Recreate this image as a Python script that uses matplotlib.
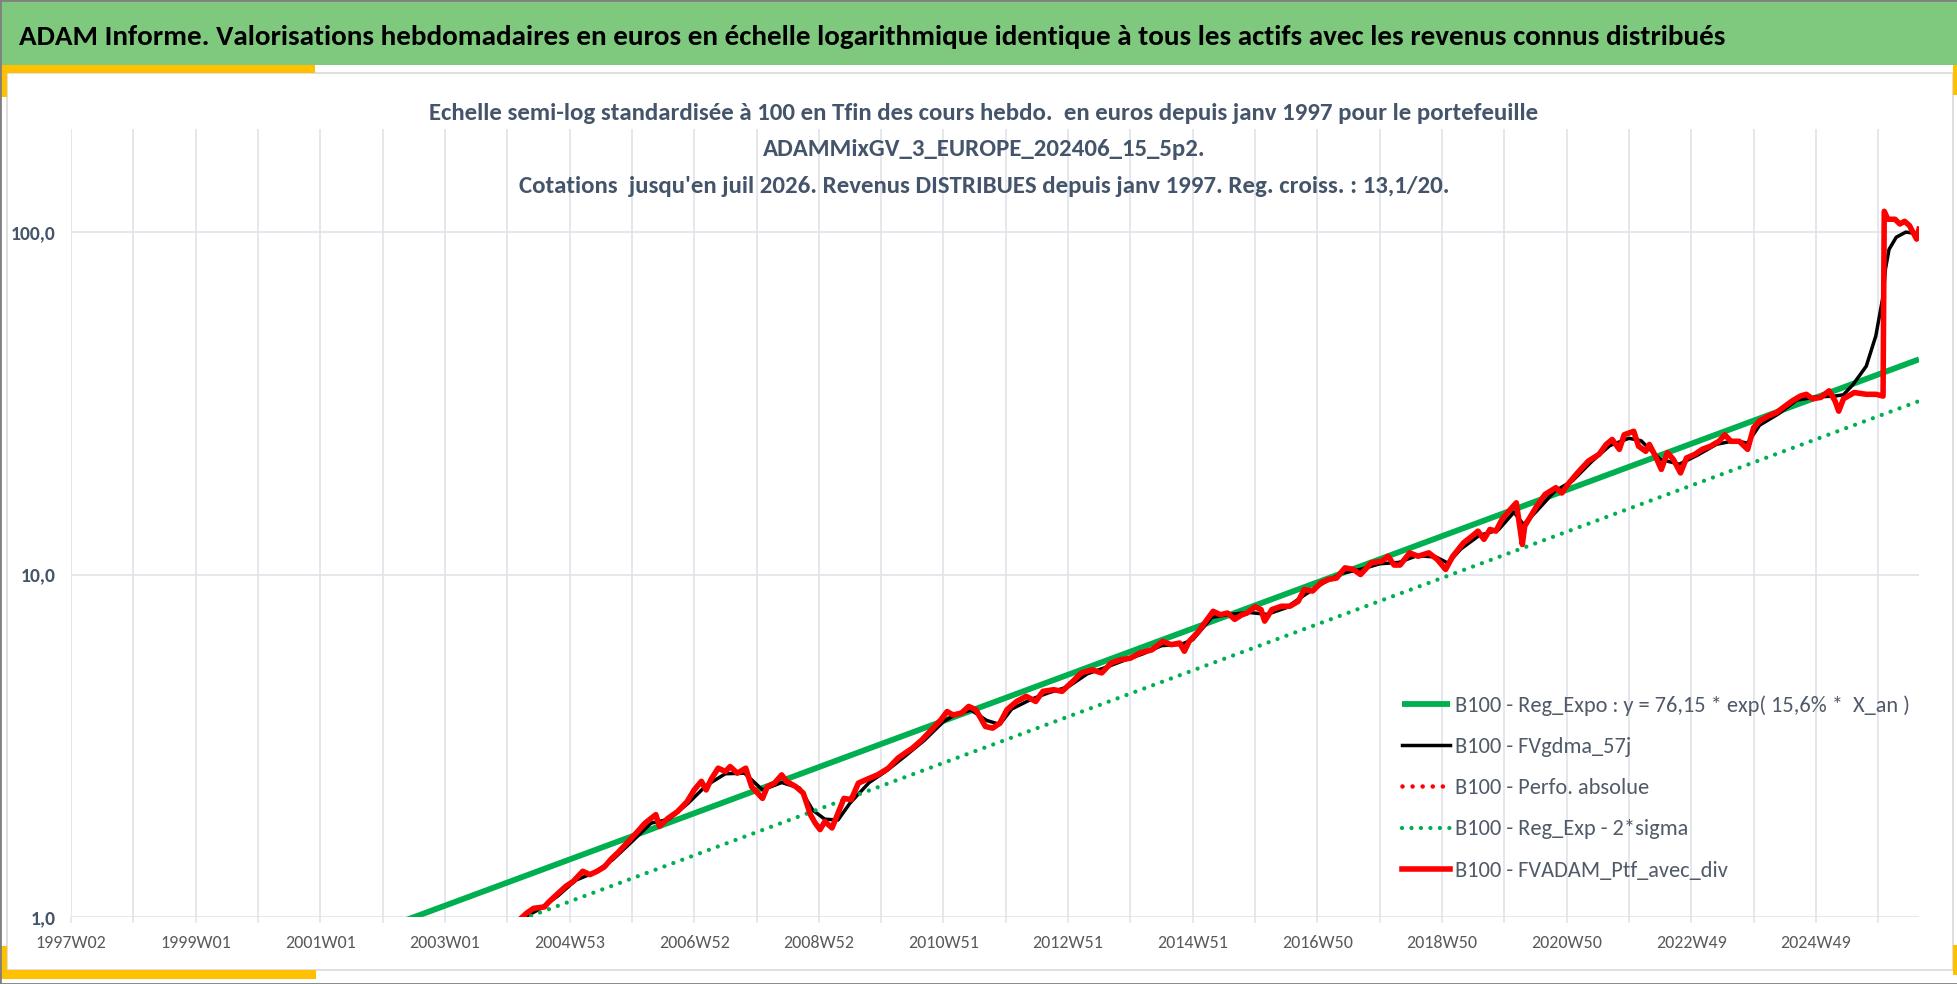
import matplotlib
matplotlib.use('Agg')
import matplotlib.pyplot as plt
from matplotlib import font_manager
from matplotlib.patches import Rectangle
from matplotlib.ticker import NullLocator

# ---------------- DATA ----------------
# x = week index since 1997W02 (weekly category axis), y = value (base 100)
n_weeks = 1543
tick_labels = ["1997W02", "1999W01", "2001W01", "2003W01", "2004W53", "2006W52",
               "2008W52", "2010W51", "2012W51", "2014W51", "2016W50", "2018W50",
               "2020W50", "2022W49", "2024W49"]

red_weeks = [372, 374, 380, 386, 395, 398, 405, 413, 419, 427, 433, 439, 445, 451, 457,
             465, 473, 479, 488, 491, 498, 506, 514, 520, 526, 530, 534, 540, 546, 550,
             556, 563, 568, 577, 581, 587, 593, 597, 605, 611, 617, 621, 625, 629, 635,
             639, 645, 651, 657, 666, 673, 682, 690, 696, 702, 710, 718, 726, 731, 736,
             743, 749, 755, 759, 763, 769, 775, 781, 789, 797, 805, 811, 820, 827, 836,
             843, 852, 860, 868, 876, 884, 892, 902, 911, 918, 925, 929, 933, 941, 947,
             953, 959, 965, 971, 977, 981, 988, 993, 996, 1002, 1010, 1017, 1024, 1029,
             1036, 1043, 1049, 1056, 1063, 1070, 1076, 1085, 1094, 1099, 1104, 1109, 1117,
             1124, 1133, 1140, 1147, 1153, 1162, 1169, 1174, 1179, 1184, 1189, 1194, 1201,
             1206, 1208, 1211, 1213, 1218, 1223, 1230, 1239, 1244, 1249, 1257, 1266, 1275,
             1281, 1286, 1292, 1296, 1304, 1308, 1314, 1317, 1322, 1327, 1332, 1337, 1343,
             1348, 1355, 1361, 1368, 1375, 1380, 1385, 1392, 1399, 1404, 1409, 1416, 1423,
             1429, 1436, 1443, 1448, 1453, 1460, 1467, 1472, 1475, 1479, 1488, 1498, 1506,
             1512, 1513, 1516, 1522, 1526, 1530, 1534, 1540, 1542]
red_values = [0.93, 0.98, 1.025, 1.06, 1.07, 1.10, 1.16, 1.23, 1.27, 1.36, 1.33, 1.36, 1.40,
              1.48, 1.55, 1.66, 1.78, 1.88, 1.99, 1.84, 1.94, 2.03, 2.17, 2.35, 2.49, 2.35,
              2.52, 2.72, 2.66, 2.75, 2.63, 2.72, 2.40, 2.22, 2.40, 2.46, 2.60, 2.49, 2.40,
              2.30, 1.99, 1.88, 1.80, 1.90, 1.82, 1.97, 2.22, 2.20, 2.46, 2.54, 2.60, 2.72,
              2.91, 3.01, 3.11, 3.29, 3.52, 3.77, 3.98, 3.89, 3.94, 4.12, 4.03, 3.81, 3.60,
              3.56, 3.68, 4.03, 4.26, 4.41, 4.26, 4.56, 4.61, 4.56, 4.88, 5.16, 5.27, 5.16,
              5.52, 5.64, 5.70, 5.90, 6.03, 6.38, 6.24, 6.31, 5.97, 6.38, 6.83, 7.31, 7.81,
              7.63, 7.72, 7.40, 7.63, 7.71, 8.05, 7.90, 7.31, 7.90, 8.08, 8.08, 8.35, 9.04,
              8.95, 9.46, 9.67, 9.77, 10.46, 10.35, 10.0, 10.82, 10.95, 11.31, 10.66, 10.66,
              11.57, 11.31, 11.57, 11.07, 10.35, 11.31, 12.38, 12.94, 13.39, 12.67, 13.54,
              13.39, 14.49, 15.49, 16.2, 14.49, 12.24, 13.85, 14.81, 15.84, 17.14, 17.93,
              17.3, 18.34, 19.8, 21.43, 22.44, 23.99, 24.8, 23.2, 25.6, 26.2, 23.7, 22.9,
              23.99, 22.2, 20.28, 22.7, 21.7, 19.8, 21.9, 22.44, 23.2, 23.7, 24.5, 25.6,
              24.5, 24.5, 23.2, 26.85, 28.1, 29.0, 29.7, 30.8, 32.1, 33.2, 33.6, 32.6, 32.9,
              34.4, 32.1, 30.0, 32.6, 34.0, 33.6, 33.6, 33.2, 115.0, 109.0, 109.0, 105.6,
              107.5, 104.5, 95.4, 101.9]

gdma_weeks = [374, 390, 406, 421, 437, 452, 468, 484, 499, 515, 530, 546, 562, 577, 593,
              608, 619, 629, 640, 650, 666, 681, 697, 712, 728, 738, 751, 764, 775, 785,
              801, 816, 832, 848, 863, 879, 894, 910, 926, 936, 952, 967, 983, 998, 1014,
              1030, 1045, 1061, 1076, 1092, 1108, 1123, 1139, 1149, 1160, 1175, 1191, 1204,
              1212, 1222, 1238, 1253, 1269, 1284, 1300, 1310, 1326, 1342, 1357, 1373, 1388,
              1399, 1409, 1425, 1440, 1456, 1472, 1479, 1487, 1498, 1506, 1512, 1514, 1517,
              1523, 1531, 1540, 1542]
gdma_values = [0.98, 1.05, 1.15, 1.28, 1.35, 1.47, 1.66, 1.88, 1.93, 2.15, 2.42, 2.62, 2.63,
               2.35, 2.47, 2.38, 2.05, 1.93, 1.92, 2.15, 2.47, 2.68, 2.97, 3.28, 3.72, 3.90,
               4.02, 3.75, 3.65, 4.05, 4.32, 4.52, 4.70, 5.13, 5.35, 5.62, 5.86, 6.2, 6.25,
               6.45, 7.5, 7.65, 7.75, 7.65, 8.0, 8.75, 9.45, 10.1, 10.35, 10.75, 10.85, 11.35,
               11.25, 10.8, 11.9, 13.0, 13.5, 15.2, 14.0, 15.2, 17.5, 18.8, 21.4, 23.8, 25.0,
               24.6, 21.7, 21.0, 22.3, 24.0, 24.6, 24.2, 27.3, 29.5, 32.3, 33.0, 33.2, 33.5,
               35.9, 40.6, 49.8, 65.0, 78.0, 89.0, 96.6, 100.0, 99.0, 101.0]

reg_weeks = [0, 1542]
reg_values = [0.425, 42.5]
sigma_weeks = [0, 1542]
sigma_values = [0.32, 32.1]

legend_labels = ["B100 - Reg_Expo : y = 76,15 * exp( 15,6% *  X_an )",
                 "B100 - FVgdma_57j",
                 "B100 - Perfo. absolue",
                 "B100 - Reg_Exp - 2*sigma",
                 "B100 - FVADAM_Ptf_avec_div"]

header_text = ("ADAM Informe. Valorisations hebdomadaires en euros en échelle logarithmique "
               "identique à tous les actifs avec les revenus connus distribués")
title_lines = ["Echelle semi-log standardisée à 100 en Tfin des cours hebdo.  en euros depuis janv 1997 pour le portefeuille",
               "ADAMMixGV_3_EUROPE_202406_15_5p2.",
               "Cotations  jusqu'en juil 2026. Revenus DISTRIBUES depuis janv 1997. Reg. croiss. : 13,1/20."]

# ---------------- STYLE ----------------
def pick_font(cands):
    for c in cands:
        try:
            font_manager.findfont(font_manager.FontProperties(family=c), fallback_to_default=False)
            return c
        except Exception:
            pass
    return 'DejaVu Sans'

FONT = pick_font(['Carlito', 'Lato', 'Open Sans'])
plt.rcParams['font.family'] = [FONT, 'DejaVu Sans']

W, H = 1958, 984
fig = plt.figure(figsize=(W / 100, H / 100), dpi=100)
fig.patch.set_facecolor('white')
renderer = fig.canvas.get_renderer()

def fx(px):
    return px / W

def fy(py):
    return 1 - py / H

def fit(txt, target, **kw):
    t = fig.text(0, 0, txt, fontsize=20, **kw)
    w = t.get_window_extent(renderer).width
    t.remove()
    return 20 * target / w

SLATE = '#44546a'
GRID = '#e0e3e9'
GREEN = '#00b050'
RED = '#ff0000'

# decorations
fig.add_artist(Rectangle((0, fy(65)), 1, 65 / H, transform=fig.transFigure,
                         facecolor='#7fc97f', edgecolor='none', zorder=0))
fig.add_artist(Rectangle((fx(7), fy(970)), (1953 - 7) / W, (970 - 73) / H,
                         transform=fig.transFigure, fill=False, edgecolor='#d9d9d9',
                         lw=1.2, zorder=0))
for (x0, y1, w, h) in [(0, 73, 315, 8), (0, 97, 7, 32), (0, 979, 316, 9), (0, 979, 7, 33),
                       (1953, 95, 5, 30), (1953, 975, 5, 30)]:
    fig.add_artist(Rectangle((fx(x0), fy(y1)), w / W, h / H, transform=fig.transFigure,
                             facecolor='#ffc000', edgecolor='none', zorder=1))
fig.add_artist(Rectangle((0, 0), 1, 1, transform=fig.transFigure, fill=False,
                         edgecolor='#7f7f7f', lw=2, zorder=5))

# header and title
fs_h = fit(header_text, 1708, weight='bold')
fig.text(fx(19), fy(45), header_text, fontsize=fs_h, weight='bold', color='black',
         ha='left', va='baseline')
fs_t = fit(title_lines[0], 1114, weight='bold')
for line, base in zip(title_lines, [120, 156.5, 193]):
    fig.text(fx(984), fy(base), line, fontsize=fs_t, weight='bold', color=SLATE,
             ha='center', va='baseline', zorder=4)

# axes
ax = fig.add_axes([fx(71), fy(917), (1919 - 71) / W, (917 - 129) / H])
ax.set_facecolor('white')
ax.set_yscale('log')
ax.set_xlim(0, n_weeks - 1)
ax.set_ylim(1, 200)
for s in ax.spines.values():
    s.set_visible(False)

grid_pos = list(range(0, n_weeks, 52))
xt_labels = []
for i, p in enumerate(grid_pos):
    xt_labels.append(tick_labels[i // 2] if i % 2 == 0 and i // 2 < len(tick_labels) else '')
fs_x = fit('1997W02', 71)
ax.set_xticks(grid_pos, labels=xt_labels)
ax.tick_params(axis='x', length=4.3, width=1.1, color=GRID, labelsize=fs_x,
               labelcolor='#595959', pad=9)
fs_y = fit('100,0', 45, weight='bold')
ax.set_yticks([1, 10, 100], labels=['1,0', '10,0', '100,0'])
ax.yaxis.set_minor_locator(NullLocator())
ax.tick_params(axis='y', length=0, labelsize=fs_y, labelcolor=SLATE, pad=11)
for lab in ax.get_yticklabels():
    lab.set_fontweight('bold')
ax.grid(True, which='major', color=GRID, lw=1.2, zorder=0)
ax.set_axisbelow(True)

dot = (0, (0.001, 2.2))
h_reg, = ax.plot(reg_weeks, reg_values, color=GREEN, lw=4.2, solid_capstyle='butt')
h_gdma, = ax.plot(gdma_weeks, gdma_values, color='black', lw=2.5)
h_perf, = ax.plot(red_weeks, red_values, color=RED, lw=3.3, linestyle=dot,
                  dash_capstyle='round')
h_sig, = ax.plot(sigma_weeks, sigma_values, color=GREEN, lw=3.1, linestyle=dot,
                 dash_capstyle='round')
h_red, = ax.plot(red_weeks, red_values, color=RED, lw=4.0, solid_joinstyle='round')

fs_l = fit(legend_labels[0], 455)
fs_l_px = fs_l * 100 / 72
fig.legend([h_reg, h_gdma, h_perf, h_sig, h_red], legend_labels, loc='upper left',
           bbox_to_anchor=(fx(1402), fy(695)), frameon=False, fontsize=fs_l,
           labelcolor='#505a68', handlelength=48 / fs_l_px, handletextpad=5 / fs_l_px,
           labelspacing=0.95, borderpad=0, borderaxespad=0)

fig.savefig('out.png', dpi=100)
